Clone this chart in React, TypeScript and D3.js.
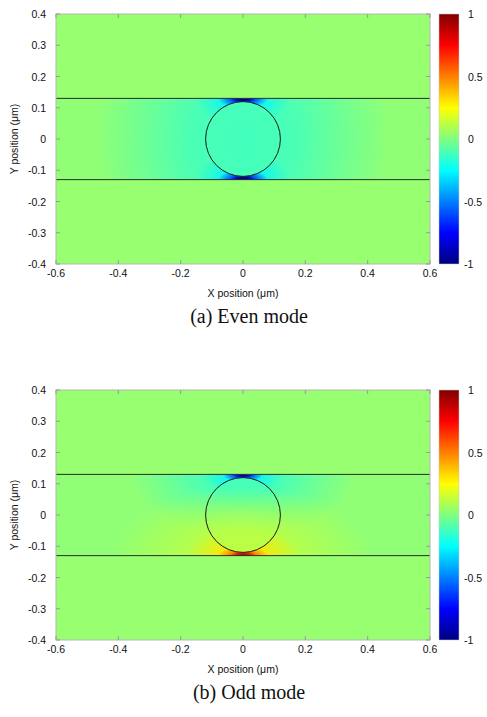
import * as d3 from 'd3';

const xTicks = [-0.6, -0.4, -0.2, 0, 0.2, 0.4, 0.6];
const yTicks = [-0.4, -0.3, -0.2, -0.1, 0, 0.1, 0.2, 0.3, 0.4];
const colorTicks = [-1, -0.5, 0, 0.5, 1];
const slabEdges = [-0.13, 0.13];
const particle = { x: 0, y: 0, r: 0.12 };

// field spots: centre and half-widths in µm, field value
// "edge" spots sit on the slab boundary and are hidden inside the particle
const evenSpots = [
  { x: 0, y: 0, rx: 0.47, ry: 0.6, v: -0.12, edge: false },
  { x: 0, y: 0.13, rx: 0.15, ry: 0.09, v: -0.27, edge: true },
  { x: 0, y: -0.13, rx: 0.15, ry: 0.09, v: -0.27, edge: true },
  { x: 0, y: 0.13, rx: 0.08, ry: 0.032, v: -0.72, edge: true },
  { x: 0, y: -0.13, rx: 0.08, ry: 0.032, v: -0.72, edge: true },
  { x: 0, y: 0.13, rx: 0.04, ry: 0.015, v: -1, edge: true },
  { x: 0, y: -0.13, rx: 0.04, ry: 0.015, v: -1, edge: true },
];

const oddSpots = [
  { x: 0, y: 0.13, rx: 0.36, ry: 0.2, v: -0.12, edge: false },
  { x: 0, y: -0.13, rx: 0.42, ry: 0.22, v: 0.12, edge: false },
  { x: 0, y: 0.13, rx: 0.13, ry: 0.065, v: -0.27, edge: true },
  { x: 0, y: -0.13, rx: 0.18, ry: 0.09, v: 0.3, edge: true },
  { x: 0, y: 0.13, rx: 0.065, ry: 0.025, v: -0.72, edge: true },
  { x: 0, y: -0.13, rx: 0.08, ry: 0.03, v: 0.6, edge: true },
  { x: 0, y: 0.13, rx: 0.032, ry: 0.012, v: -0.92, edge: true },
  { x: 0, y: -0.13, rx: 0.04, ry: 0.015, v: 0.88, edge: true },
];

const panels = [
  { id: 'even', caption: '(a) Even mode', spots: evenSpots },
  { id: 'odd', caption: '(b) Odd mode', spots: oddSpots },
];

const W = 487;
const H = 717;
const PLOT = { left: 56, width: 374, height: 250 };
const PANEL_TOPS = [14, 390];
const CB = { x: 439, width: 20 };
const FONT = '"Liberation Sans", Arial, Helvetica, sans-serif';

const jetDomain = [-1, -0.75, -0.25, 0.25, 0.75, 1];
const jetRange = ['#000080', '#0000ff', '#00ffff', '#ffff00', '#ff0000', '#800000'];
const jet = d3.scaleLinear<string>().domain(jetDomain).range(jetRange).clamp(true);

const fade = [
  [0, 1],
  [0.35, 0.9],
  [0.7, 0.4],
  [1, 0],
];

const fmt = (t) => d3.format('')(t).replace('−', '-');

function Panel({ top, id, caption, spots }) {
  const x = d3.scaleLinear().domain([-0.6, 0.6]).range([PLOT.left, PLOT.left + PLOT.width]);
  const y = d3.scaleLinear().domain([-0.4, 0.4]).range([top + PLOT.height, top]);
  const c = d3.scaleLinear().domain([-1, 1]).range([top + PLOT.height, top]);
  const bandTop = y(slabEdges[1]);
  const bandBottom = y(slabEdges[0]);
  const right = PLOT.left + PLOT.width;
  const bottom = top + PLOT.height;
  const kx = x(1) - x(0);
  const ky = y(0) - y(1);

  const spot = (s, i) => (
    <ellipse key={i} cx={x(s.x)} cy={y(s.y)} rx={s.rx * kx} ry={s.ry * ky} fill={`url(#${id}-g${i})`} />
  );

  return (
    <g>
      <defs>
        {spots.map((s, i) => (
          <radialGradient key={i} id={`${id}-g${i}`}>
            {fade.map(([o, a]) => (
              <stop key={o} offset={o} stopColor={jet(s.v)} stopOpacity={a} />
            ))}
          </radialGradient>
        ))}
        <clipPath id={`${id}-band`}>
          <rect x={PLOT.left} y={bandTop} width={PLOT.width} height={bandBottom - bandTop} />
        </clipPath>
        <mask id={`${id}-mask`} maskUnits="userSpaceOnUse" x={0} y={0} width={W} height={H}>
          <rect x={0} y={0} width={W} height={H} fill="white" />
          <circle cx={x(particle.x)} cy={y(particle.y)} r={particle.r * kx} fill="black" />
        </mask>
        <linearGradient id={`${id}-cb`} x1="0" y1="1" x2="0" y2="0">
          {jetDomain.map((d, i) => (
            <stop key={i} offset={(d + 1) / 2} stopColor={jetRange[i]} />
          ))}
        </linearGradient>
      </defs>

      {/* background and slab */}
      <rect x={PLOT.left} y={top} width={PLOT.width} height={PLOT.height} fill="#97ff70" />
      <rect x={PLOT.left} y={bandTop} width={PLOT.width} height={bandBottom - bandTop} fill="#90ff76" />
      <g clipPath={`url(#${id}-band)`}>
        {spots.map((s, i) => (s.edge ? null : spot(s, i)))}
        <g mask={`url(#${id}-mask)`}>{spots.map((s, i) => (s.edge ? spot(s, i) : null))}</g>
      </g>

      {slabEdges.map((e) => (
        <line key={e} x1={PLOT.left} x2={right} y1={y(e)} y2={y(e)} stroke="#2a2a2a" strokeWidth={1} />
      ))}
      <circle cx={x(particle.x)} cy={y(particle.y)} r={particle.r * kx} fill="none" stroke="#1a1a1a" strokeWidth={1} />

      {/* frame and ticks */}
      <rect x={PLOT.left} y={top} width={PLOT.width} height={PLOT.height} fill="none" stroke="#b5b5b5" strokeWidth={1} />
      {xTicks.map((t) => (
        <g key={t} stroke="#9a9a9a">
          <line x1={x(t)} x2={x(t)} y1={bottom} y2={bottom - 4} />
          <line x1={x(t)} x2={x(t)} y1={top} y2={top + 4} />
        </g>
      ))}
      {yTicks.map((t) => (
        <g key={t} stroke="#9a9a9a">
          <line x1={PLOT.left} x2={PLOT.left + 4} y1={y(t)} y2={y(t)} />
          <line x1={right} x2={right - 4} y1={y(t)} y2={y(t)} />
        </g>
      ))}

      <g fontFamily={FONT} fontSize={10.5} fill="#111">
        {xTicks.map((t) => (
          <text key={t} x={x(t)} y={bottom + 13} textAnchor="middle">{fmt(t)}</text>
        ))}
        {yTicks.map((t) => (
          <text key={t} x={PLOT.left - 10} y={y(t) + 4} textAnchor="end">{fmt(t)}</text>
        ))}
        <text x={x(0)} y={bottom + 33} textAnchor="middle">X position (μm)</text>
        <text transform={`translate(18, ${top + PLOT.height / 2}) rotate(-90)`} textAnchor="middle">
          Y position (μm)
        </text>
        {colorTicks.map((t) => (
          <text key={t} x={t < 0 ? 464 : 468} y={c(t) + 4} textAnchor="start">{fmt(t)}</text>
        ))}
      </g>

      {/* colour bar */}
      <rect x={CB.x} y={top} width={CB.width} height={PLOT.height} fill={`url(#${id}-cb)`} stroke="#c8c8c8" strokeWidth={0.5} />

      <text x={249} y={bottom + 59} textAnchor="middle" fontFamily='"Liberation Serif", "Times New Roman", serif' fontSize={20} fill="#111">
        {caption}
      </text>
    </g>
  );
}

export default function App() {
  return (
    <svg width={W} height={H} style={{ position: 'absolute', left: 0, top: 0, background: '#fff' }}>
      {panels.map((p, i) => (
        <Panel key={p.id} top={PANEL_TOPS[i]} id={p.id} caption={p.caption} spots={p.spots} />
      ))}
    </svg>
  );
}
